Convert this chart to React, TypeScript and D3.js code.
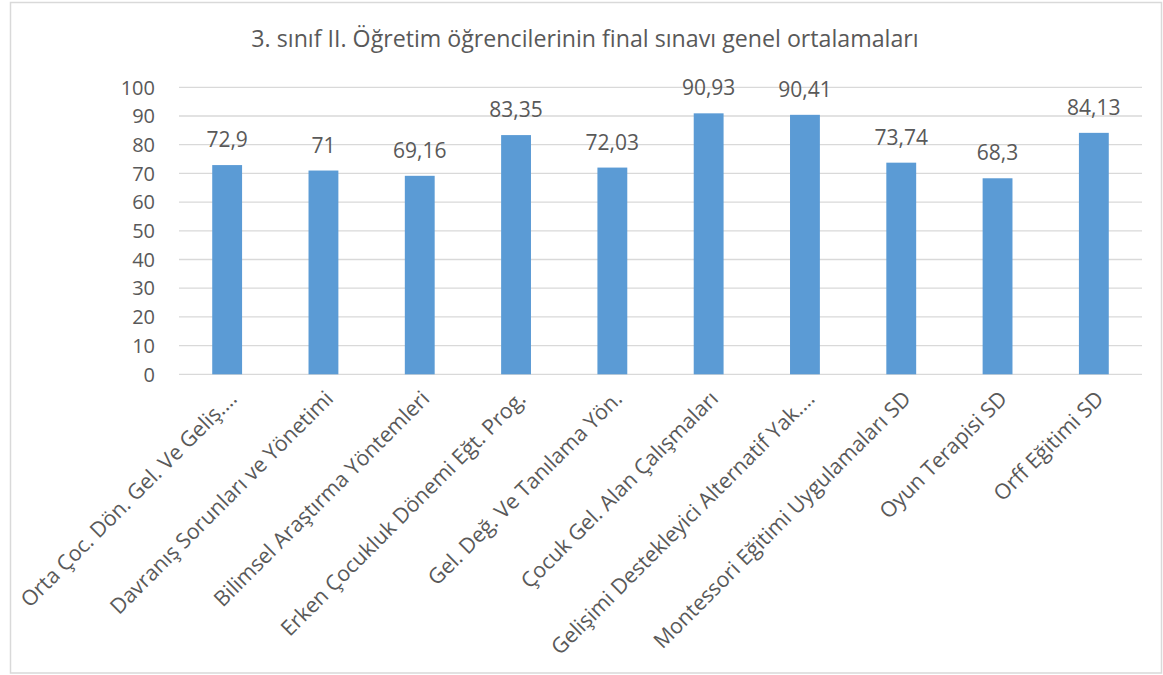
import { useEffect } from 'react'
import * as d3 from 'd3'

const categories = [
  'Orta Çoc. Dön. Gel. Ve Geliş.…',
  'Davranış Sorunları ve Yönetimi',
  'Bilimsel Araştırma Yöntemleri',
  'Erken Çocukluk Dönemi Eğt. Prog.',
  'Gel. Değ. Ve Tanılama Yön.',
  'Çocuk Gel. Alan Çalışmaları',
  'Gelişimi Destekleyici Alternatif Yak.…',
  'Montessori Eğitimi Uygulamaları SD',
  'Oyun Terapisi SD',
  'Orff Eğitimi SD',
]
const values = [72.9, 71, 69.16, 83.35, 72.03, 90.93, 90.41, 73.74, 68.3, 84.13]
const yTicks = [0, 10, 20, 30, 40, 50, 60, 70, 80, 90, 100]
const title = '3. sınıf II. Öğretim öğrencilerinin final sınavı genel ortalamaları'

const W = 1163
const H = 675
const FONT = '"Open Sans", "Segoe UI", sans-serif'
const TEXT = '#595959'

export default function App() {
  useEffect(() => {
    document.body.style.margin = '0'
  }, [])

  const x = d3.scaleBand<string>().domain(categories).range([179, 1142]).paddingInner(0.69).paddingOuter(0.345)
  const y = d3.scaleLinear().domain([0, 100]).range([374.3, 87.3])
  const fmt = (v: number) => String(v).replace('.', ',')

  return (
    <svg width={W} height={H} style={{ display: 'block', background: '#fff' }} fontFamily={FONT}>
      <rect x={10.5} y={2.5} width={1151} height={670.5} fill="#fff" stroke="#d9d9d9" strokeWidth={1.5} />
      <text x={585} y={47} textAnchor="middle" fontSize={23.2} fill={TEXT}>
        {title}
      </text>

      {/* gridlines + y labels */}
      {yTicks.map((t) => (
        <g key={t}>
          <line x1={179} x2={1142} y1={y(t)} y2={y(t)} stroke="#d9d9d9" strokeWidth={1.3} />
          <text x={155} y={y(t)} dy="0.36em" textAnchor="end" fontSize={20} fill={TEXT}>
            {t}
          </text>
        </g>
      ))}

      {/* bars */}
      {categories.map((c, i) => (
        <rect key={c} x={x(c)} y={y(values[i])} width={x.bandwidth()} height={y(0) - y(values[i])} fill="#5b9bd5" />
      ))}

      {/* value labels */}
      {categories.map((c, i) => (
        <text
          key={c + 'v'}
          x={(x(c) ?? 0) + x.bandwidth() / 2}
          y={y(values[i]) - 18}
          textAnchor="middle"
          fontSize={21}
          fill={TEXT}
        >
          {fmt(values[i])}
        </text>
      ))}

      {/* category labels */}
      {categories.map((c) => {
        const cx = (x(c) ?? 0) + x.bandwidth() / 2 + 11
        const cy = 400
        return (
          <text
            key={c + 'l'}
            transform={`translate(${cx},${cy}) rotate(-45)`}
            textAnchor="end"
            fontSize={21.3}
            fill={TEXT}
          >
            {c}
          </text>
        )
      })}
    </svg>
  )
}
